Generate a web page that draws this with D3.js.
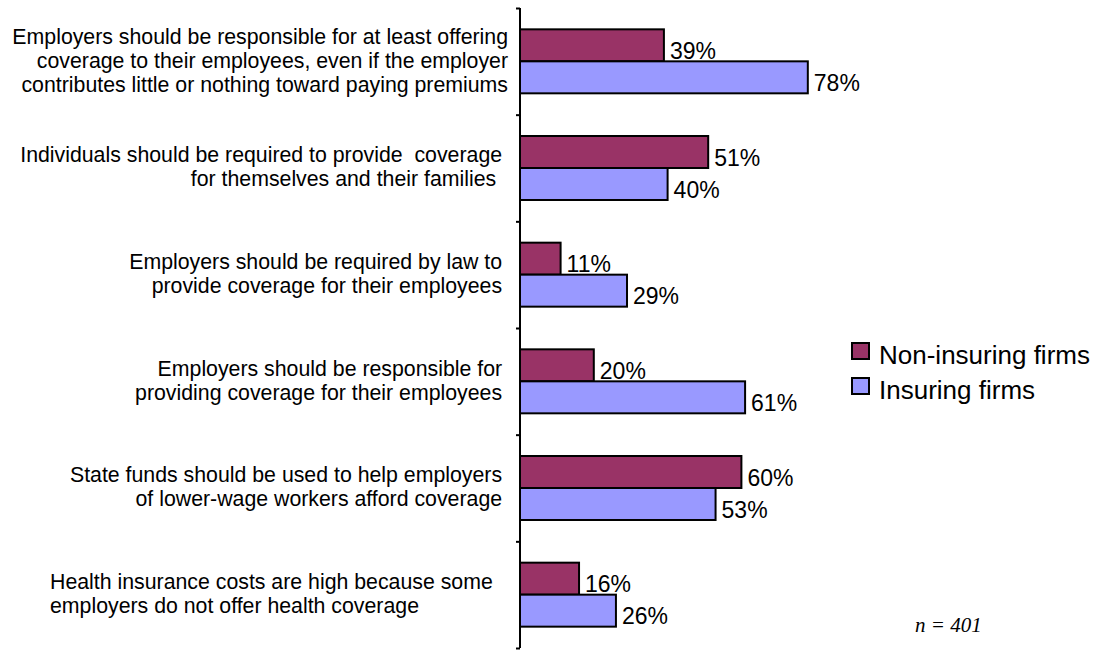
<!DOCTYPE html>
<html>
<head>
<meta charset="utf-8">
<script src="https://cdn.jsdelivr.net/npm/d3@7"></script>
<style>
  body { margin: 0; background: #fff; }
  svg text { font-family: "Liberation Sans", Arial, sans-serif; fill: #000; }
</style>
</head>
<body>
<div id="chart"></div>
<script>
// data
var statements = [
  ["Employers should be responsible for at least offering",
   "coverage to their employees, even if the employer",
   "contributes little or nothing toward paying premiums"],
  ["Individuals should be required to provide  coverage ",
   "for themselves and their families  "],
  ["Employers should be required by law to ",
   "provide coverage for their employees "],
  ["Employers should be responsible for ",
   "providing coverage for their employees "],
  ["State funds should be used to help employers ",
   "of lower-wage workers afford coverage "],
  ["Health insurance costs are high because some",
   "employers do not offer health coverage"]
];
var seriesNames = ["Non-insuring firms", "Insuring firms"];
var nonInsuring = [39, 51, 11, 20, 60, 16];
var insuring = [78, 40, 29, 61, 53, 26];
var colors = ["#993366", "#9999ff"];

var width = 1097, height = 650;

var svg = d3.select("#chart")
  .append("svg")
    .attr("width", width)
    .attr("height", height);

var axisX = 520;

// scales
var x = d3.scaleLinear()
  .domain([0, 100])
  .range([axisX, axisX + 369]);

var y = d3.scaleBand()
  .domain(d3.range(statements.length))
  .range([8, 648])
  .padding(0);

var ySub = d3.scaleBand()
  .domain([0, 1])
  .range([0, y.bandwidth()])
  .paddingInner(0)
  .paddingOuter(0.667);

// bars
var rows = statements.map(function(s, i) {
  return { i: i, vals: [nonInsuring[i], insuring[i]] };
});

var groups = svg.selectAll(".grp")
  .data(rows)
  .join("g")
    .attr("class", "grp")
    .attr("transform", function(d) { return "translate(0," + y(d.i) + ")"; });

groups.selectAll("rect")
  .data(function(d) { return d.vals.map(function(v, k) { return {k: k, v: v}; }); })
  .join("rect")
    .attr("x", x(0))
    .attr("y", function(d) { return ySub(d.k); })
    .attr("width", function(d) { return x(d.v) - x(0); })
    .attr("height", ySub.bandwidth())
    .attr("fill", function(d) { return colors[d.k]; })
    .attr("stroke", "#000")
    .attr("stroke-width", 2);

groups.selectAll(".val")
  .data(function(d) { return d.vals.map(function(v, k) { return {k: k, v: v}; }); })
  .join("text")
    .attr("class", "val")
    .attr("x", function(d) { return x(d.v) + 6; })
    .attr("y", function(d) { return ySub(d.k) + ySub.bandwidth() / 2 + 5.5; })
    .attr("dy", "0.35em")
    .attr("font-size", 23)
    .text(function(d) { return d.v + "%"; });

// category labels (the last one is left aligned in the original)
var lineH = 24;
var last = statements.length - 1;
groups.append("text")
  .attr("text-anchor", function(d) { return d.i === last ? "start" : "end"; })
  .attr("font-size", 21.3)
  .attr("xml:space", "preserve")
  .selectAll("tspan")
  .data(function(d) {
    var lines = statements[d.i];
    return lines.map(function(t, j) {
      return { t: t, i: d.i, off: (j - (lines.length - 1) / 2) * lineH };
    });
  })
  .join("tspan")
    .attr("x", function(d) { return d.i === last ? 50 : 508; })
    .attr("y", function(d) { return y.bandwidth() / 2 - 1 + d.off; })
    .attr("dy", "0.35em")
    .text(function(d) { return d.t; });

// vertical axis with ticks at band boundaries
var yEdge = d3.scaleLinear().domain([0, statements.length]).range([8, 648]);
var axis = svg.append("g")
  .attr("transform", "translate(" + axisX + ",0)")
  .call(d3.axisLeft(yEdge).ticks(statements.length).tickSize(4).tickFormat(""));
axis.select(".domain").attr("stroke", "#000").attr("stroke-width", 2).attr("d", "M0,8V648");
axis.selectAll(".tick line").attr("stroke", "#000").attr("stroke-width", 2);

// legend
var legend = svg.append("g").attr("transform", "translate(852,343)");
var li = legend.selectAll("g")
  .data(seriesNames)
  .join("g")
    .attr("transform", function(d, i) { return "translate(0," + i * 35 + ")"; });
li.append("rect")
  .attr("width", 17).attr("height", 16)
  .attr("fill", function(d, i) { return colors[i]; })
  .attr("stroke", "#000").attr("stroke-width", 2);
li.append("text")
  .attr("x", 27).attr("y", 12).attr("dy", "0.35em")
  .attr("font-size", 26)
  .text(function(d) { return d; });

// sample size
svg.append("text")
  .attr("x", 915).attr("y", 625).attr("dy", "0.35em")
  .attr("font-size", 21)
  .attr("font-style", "italic")
  .style("font-family", "'Liberation Serif', 'Times New Roman', serif")
  .text("n = 401");
</script>
</body>
</html>
